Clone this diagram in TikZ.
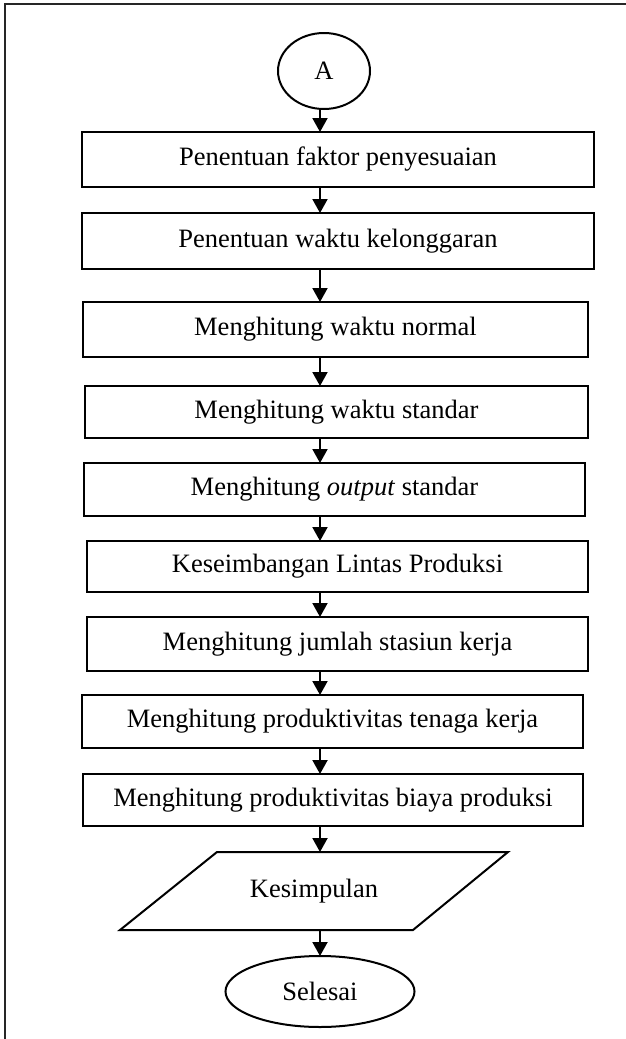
\documentclass[tikz,border=0pt]{standalone}
\usepackage{fontspec}
\setmainfont{Liberation Serif}
\usetikzlibrary{arrows.meta,shapes.geometric}
\begin{document}
\begin{tikzpicture}[x=1pt,y=-1pt,
  every node/.style={font=\fontsize{26.5}{30}\selectfont, inner sep=0pt, outer sep=0pt},
  stepbox/.style={draw, line width=2pt, rectangle},
  termbox/.style={draw, line width=2pt, ellipse},
  arr/.style={line width=2pt, -{Triangle[width=15pt,length=14pt]}},
  framestyle/.style={line width=1.4pt, draw=black!85}
]
\useasboundingbox (0,0) rectangle (626,1039);
% frame
\coordinate (fbl) at (5,1039);
\coordinate (ftl) at (5,4);
\coordinate (ftr) at (626,4);
\draw[framestyle] (fbl) -- (ftl) -- (ftr);
% axis of connectors
\coordinate (ax) at (320,0);
% nodes
\node[termbox, minimum width=92pt, minimum height=76pt] (A) at (324,71) {A};
\node[stepbox, minimum width=512pt, minimum height=55pt] (b1) at (338,159.5) {Penentuan faktor penyesuaian};
\node[stepbox, minimum width=512pt, minimum height=56pt] (b2) at (338,241) {Penentuan waktu kelonggaran};
\node[stepbox, minimum width=505pt, minimum height=55pt] (b3) at (335.5,329.5) {Menghitung waktu normal};
\node[stepbox, minimum width=503pt, minimum height=52pt] (b4) at (336.5,412) {Menghitung waktu standar};
\node[stepbox, minimum width=501pt, minimum height=53pt] (b5) at (334.5,489.5) {Menghitung \textit{output} standar};
\node[stepbox, minimum width=501pt, minimum height=51pt] (b6) at (337.5,566.5) {Keseimbangan Lintas Produksi};
\node[stepbox, minimum width=501pt, minimum height=54pt] (b7) at (337.5,644) {Menghitung jumlah stasiun kerja};
\node[stepbox, minimum width=501pt, minimum height=53pt] (b8) at (332.5,721.5) {Menghitung produktivitas tenaga kerja};
\node[stepbox, minimum width=500pt, minimum height=52pt] (b9) at (333,800) {Menghitung produktivitas biaya produksi};
% parallelogram (output)
\node[minimum width=388pt, minimum height=78pt] (K) at (314,891) {Kesimpulan};
\coordinate (Ktl) at (217,852);
\coordinate (Ktr) at (508,852);
\coordinate (Kbr) at (413,930);
\coordinate (Kbl) at (120,930);
\draw[line width=2pt, line join=miter] (Ktl) -- (Ktr) -- (Kbr) -- (Kbl) -- cycle;
\node[termbox, minimum width=189pt, minimum height=71pt] (S) at (320,991.5) {Selesai};
% connectors
\draw[arr] (A.south -| ax) -- (b1.north -| ax);
\draw[arr] (b1.south -| ax) -- (b2.north -| ax);
\draw[arr] (b2.south -| ax) -- (b3.north -| ax);
\draw[arr] (b3.south -| ax) -- (b4.north -| ax);
\draw[arr] (b4.south -| ax) -- (b5.north -| ax);
\draw[arr] (b5.south -| ax) -- (b6.north -| ax);
\draw[arr] (b6.south -| ax) -- (b7.north -| ax);
\draw[arr] (b7.south -| ax) -- (b8.north -| ax);
\draw[arr] (b8.south -| ax) -- (b9.north -| ax);
\draw[arr] (b9.south -| ax) -- (K.north -| ax);
\draw[arr] (K.south -| ax) -- (S.north -| ax);
\end{tikzpicture}
\end{document}
